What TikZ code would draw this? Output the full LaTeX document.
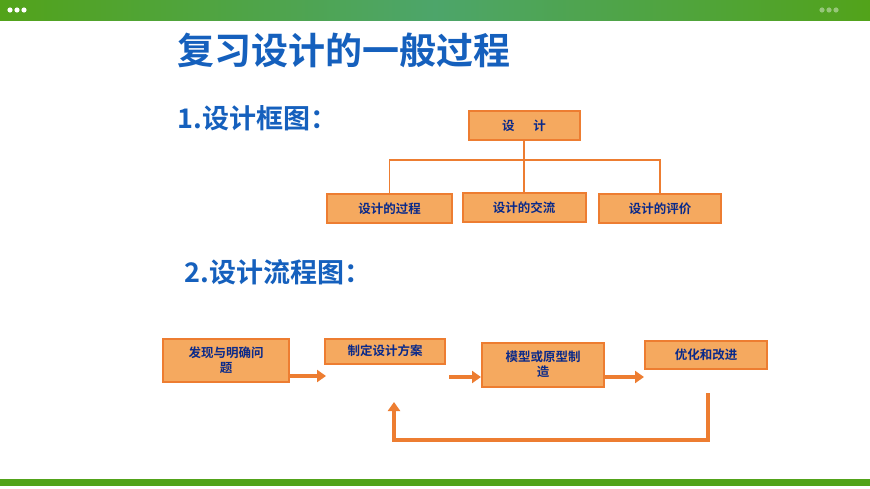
\documentclass[tikz,border=0pt]{standalone}
\usepackage{fontspec}
\newfontfamily\cjk{Noto Sans CJK SC}[BoldFont={Noto Sans CJK SC Bold}]
\usetikzlibrary{arrows.meta}
\definecolor{gr}{HTML}{52A31A}
\definecolor{gr2}{HTML}{4DA56A}
\definecolor{bx}{HTML}{F5A95F}
\definecolor{bd}{HTML}{ED7D31}
\definecolor{tb}{HTML}{1560BD}
\definecolor{tx}{HTML}{0A2A8A}
\begin{document}
\begin{tikzpicture}[x=1pt,y=-1pt,
  bbox/.style={draw=bd,line width=2pt,fill=bx,inner sep=2pt,font=\cjk\bfseries\fontsize{12.5}{15}\selectfont,text=tx,align=center},
  ln/.style={draw=bd,line width=1.5pt},
  ar/.style={draw=bd,line width=4pt,-{Triangle[length=9pt,width=12pt]}}]
\useasboundingbox (0,0) rectangle (870,489);
\fill[white] (0,0) rectangle (870,489);
\shade[left color=gr,right color=gr,middle color=gr2] (0,0) rectangle (870,21);
\foreach \x in {10,17,24}{\fill[white] (\x,10) circle (2.6);}
\foreach \x in {822,829,836}{\fill[white,opacity=0.4] (\x,10) circle (2.6);}
\fill[gr] (0,479) rectangle (870,486);
\node[anchor=west,text=tb,font=\cjk\bfseries\fontsize{37}{40}\selectfont] (t) at (174,50) {复习设计的一般过程};
\node[anchor=west,text=tb,font=\cjk\bfseries\fontsize{27}{30}\selectfont] (h1) at (174,118) {1.设计框图：};
\node[anchor=west,text=tb,font=\cjk\bfseries\fontsize{27}{30}\selectfont] (h2) at (181,272) {2.设计流程图：};
\node[bbox,minimum width=111,minimum height=29] (d) at (524,125.5) {设\hspace{1.5em}计};
\node[bbox,minimum width=125,minimum height=29] (a) at (389.5,209) {设计的过程};
\node[bbox,minimum width=123,minimum height=29] (b) at (524,208) {设计的交流};
\node[bbox,minimum width=122,minimum height=29] (c) at (660,209) {设计的评价};
\coordinate (m) at (524,160);
\draw[ln] (d.south) -- (m);
\draw[ln] (a.north) |- (m) -| (c.north);
\draw[ln] (m) -- (b.north);
\node[bbox,minimum width=126,minimum height=43,text width=110] (f1) at (226,360) {发现与明确问\\题};
\node[bbox,minimum width=120,minimum height=25] (f2) at (385,351) {制定设计方案};
\node[bbox,minimum width=122,minimum height=44,text width=110] (f3) at (543,364.5) {模型或原型制\\造};
\node[bbox,minimum width=122,minimum height=28] (f4) at (706,354.5) {优化和改进};
\draw[ar] (f1.east |- 0,376) -- (326,376);
\draw[ar] (449,377) -- (f3.west |- 0,377);
\draw[ar] (f3.east |- 0,377) -- (644,377);
\coordinate (p) at (708,393);
\coordinate (q) at (394,402);
\draw[ar] (p) -- (708,440) -- (394,440) -- (q);
\end{tikzpicture}
\end{document}
